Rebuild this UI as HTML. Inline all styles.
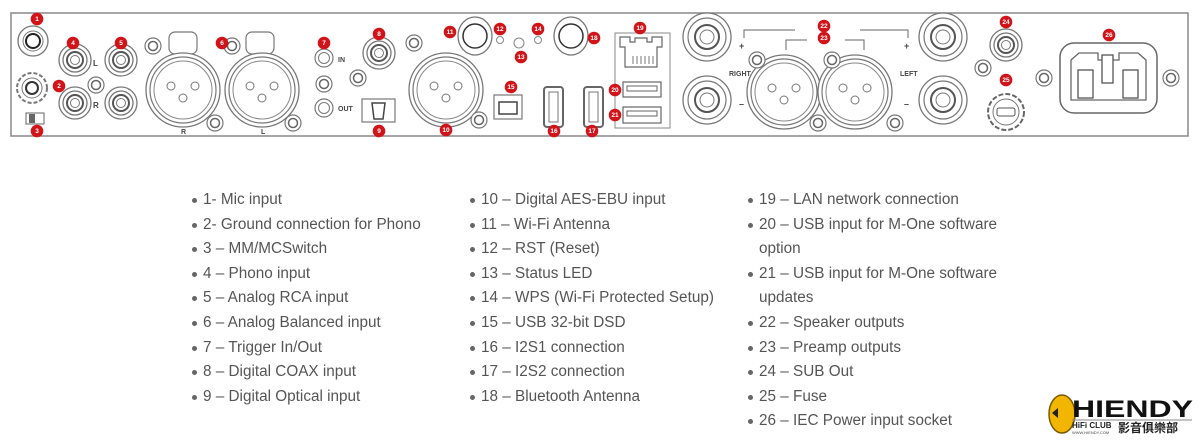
<!DOCTYPE html>
<html><head><meta charset="utf-8"><style>
body{margin:0;width:1199px;height:440px;background:#fff;overflow:hidden;position:relative;font-family:"Liberation Sans",sans-serif}
svg{position:absolute;left:0;top:0}
ul{position:absolute;top:188px;margin:0;padding:0;list-style:none;font-size:15.3px;color:#555;line-height:24.6px}
li{position:relative;padding-left:11px}
li:before{content:"";position:absolute;left:0;top:10px;width:5px;height:5px;border-radius:50%;background:#666}
</style></head><body>
<svg width="1199" height="440" font-family="Liberation Sans,sans-serif">
<defs>
<g id="rca"><circle r="16" fill="#fff" stroke="#777" stroke-width="1.3"/><circle r="12" fill="none" stroke="#777" stroke-width="1.3"/><circle r="8" fill="none" stroke="#555" stroke-width="2"/><circle r="4.5" fill="none" stroke="#777"/></g>
<g id="scr"><circle r="8" fill="#fff" stroke="#777" stroke-width="1.2"/><circle r="4.5" fill="none" stroke="#666" stroke-width="1.5"/></g>
<g id="jk"><circle r="9" fill="#fff" stroke="#777" stroke-width="1.2"/><circle r="5.5" fill="none" stroke="#777"/></g>
<g id="xlr"><circle r="37" fill="#fff" stroke="#777" stroke-width="1.3"/><circle r="33" fill="none" stroke="#777" stroke-width="1.2"/><circle r="29" fill="none" stroke="#888"/><circle cx="-12" cy="-4" r="4" fill="none" stroke="#777"/><circle cx="12" cy="-4" r="4" fill="none" stroke="#777"/><circle cx="0" cy="8" r="4" fill="none" stroke="#777"/></g>
<g id="post"><circle r="24" fill="#fff" stroke="#777" stroke-width="1.3"/><circle r="19" fill="none" stroke="#777" stroke-width="1.2"/><circle r="12" fill="none" stroke="#555" stroke-width="2"/><circle r="7" fill="none" stroke="#777"/></g>
</defs>
<rect x="11" y="13" width="1177" height="123" fill="#fff" stroke="#888" stroke-width="1.5"/>
<circle cx="33" cy="41" r="15" fill="#fff" stroke="#777" stroke-width="1.3"/><circle cx="33" cy="41" r="10" fill="none" stroke="#777"/><circle cx="33" cy="41" r="7" fill="none" stroke="#222" stroke-width="2"/>
<circle cx="32" cy="88" r="15" fill="#fff" stroke="#777" stroke-width="2" stroke-dasharray="4 2"/><circle cx="32" cy="88" r="10" fill="none" stroke="#777"/><circle cx="32" cy="88" r="6" fill="none" stroke="#333" stroke-width="2"/>
<rect x="26" y="113" width="18" height="11" fill="#fff" stroke="#666"/><rect x="29" y="114" width="6" height="9" fill="#666"/>
<use href="#rca" x="75" y="60"/><use href="#rca" x="75" y="103"/><use href="#rca" x="121" y="60"/><use href="#rca" x="121" y="103"/>
<use href="#scr" x="96" y="85"/>
<g font-size="8" font-weight="bold" fill="#444"><text x="93" y="66">L</text><text x="93" y="108">R</text></g>
<rect x="169" y="32" width="28" height="22" rx="6" fill="#fff" stroke="#777" stroke-width="1.2"/>
<rect x="246" y="32" width="28" height="22" rx="6" fill="#fff" stroke="#777" stroke-width="1.2"/>
<use href="#xlr" x="183" y="90"/><use href="#xlr" x="262" y="90"/>
<use href="#scr" x="153" y="46"/><use href="#scr" x="215" y="123"/><use href="#scr" x="232" y="46"/><use href="#scr" x="293" y="123"/>
<g font-size="7" font-weight="bold" fill="#444"><text x="181" y="134">R</text><text x="261" y="134">L</text></g>
<use href="#jk" x="324" y="58"/><use href="#scr" x="324" y="84"/><use href="#jk" x="324" y="108"/>
<g font-size="7" font-weight="bold" fill="#444"><text x="338" y="62">IN</text><text x="338" y="111">OUT</text></g>
<use href="#rca" x="379" y="53"/><use href="#scr" x="358" y="78"/>
<rect x="362" y="99" width="33" height="23" fill="#fff" stroke="#777" stroke-width="1.2"/><path d="M372 103h13l-2 16h-9z" fill="#fff" stroke="#444" stroke-width="1.5"/>
<use href="#xlr" x="446" y="90"/><use href="#scr" x="414" y="43"/><use href="#scr" x="479" y="120"/>
<ellipse cx="475" cy="36" rx="17" ry="19" fill="#fff" stroke="#777" stroke-width="1.3"/><circle cx="475" cy="36" r="12" fill="none" stroke="#333" stroke-width="1.5"/>
<ellipse cx="571" cy="36" rx="17" ry="19" fill="#fff" stroke="#777" stroke-width="1.3"/><circle cx="571" cy="36" r="12" fill="none" stroke="#333" stroke-width="1.5"/>
<circle cx="500" cy="40" r="3.5" fill="none" stroke="#888"/><circle cx="519" cy="43" r="5" fill="none" stroke="#888"/><circle cx="538" cy="40" r="3.5" fill="none" stroke="#888"/>
<rect x="494" y="95" width="28" height="24" fill="#fff" stroke="#777" stroke-width="1.2"/><path d="M499 102h18v12h-18z" fill="none" stroke="#444" stroke-width="1.5"/>
<rect x="544" y="87" width="19" height="40" rx="3" fill="#fff" stroke="#666" stroke-width="2"/><rect x="549" y="92" width="9" height="30" fill="none" stroke="#777"/>
<rect x="584" y="87" width="19" height="40" rx="3" fill="#fff" stroke="#666" stroke-width="2"/><rect x="589" y="92" width="9" height="30" fill="none" stroke="#777"/>
<rect x="615" y="33" width="55" height="95" fill="#fff" stroke="#888"/>
<path d="M620 37h10v5h5v-4h12v4h5v-5h10v10h-5v20h-32v-20h-5z" fill="#fff" stroke="#666" stroke-width="1.2"/>
<g stroke="#777"><line x1="633" y1="56" x2="633" y2="64"/><line x1="637" y1="56" x2="637" y2="64"/><line x1="641" y1="56" x2="641" y2="64"/><line x1="645" y1="56" x2="645" y2="64"/><line x1="649" y1="56" x2="649" y2="64"/><line x1="653" y1="56" x2="653" y2="64"/></g>
<rect x="623" y="82" width="38" height="15" fill="#fff" stroke="#666" stroke-width="1.2"/><rect x="627" y="86" width="30" height="5" fill="none" stroke="#666"/>
<rect x="623" y="107" width="38" height="16" fill="#fff" stroke="#666" stroke-width="1.2"/><rect x="627" y="111" width="30" height="5" fill="none" stroke="#666"/>
<use href="#post" x="707" y="37"/><use href="#post" x="707" y="100"/><use href="#post" x="943" y="37"/><use href="#post" x="943" y="100"/>
<use href="#xlr" x="784" y="92"/><use href="#xlr" x="855" y="92"/>
<use href="#scr" x="757" y="60"/><use href="#scr" x="818" y="123"/><use href="#scr" x="832" y="60"/><use href="#scr" x="895" y="123"/>
<g stroke="#666" fill="none" stroke-width="1"><path d="M744 38v-8h51"/><path d="M860 30h48v8"/><path d="M786 50v-10h21"/><path d="M845 40h19v10"/></g>
<g font-size="9" fill="#444" font-weight="bold"><text x="739" y="49">+</text><text x="739" y="107">–</text><text x="904" y="49">+</text><text x="904" y="107">–</text></g>
<g font-size="7" font-weight="bold" fill="#444"><text x="729" y="76">RIGHT</text><text x="900" y="76">LEFT</text></g>
<use href="#rca" x="1006" y="45"/><use href="#scr" x="983" y="68"/>
<circle cx="1006" cy="112" r="18" fill="#fff" stroke="#666" stroke-width="2" stroke-dasharray="5 2"/><circle cx="1006" cy="112" r="13" fill="none" stroke="#777"/><rect x="997" y="108" width="18" height="8" rx="2" fill="none" stroke="#555"/>
<use href="#scr" x="1044" y="78"/><use href="#scr" x="1171" y="78"/>
<rect x="1060" y="43" width="97" height="70" rx="14" fill="#fff" stroke="#666" stroke-width="1.5"/>
<path d="M1071 60l8-7h19v7h21v-7h19l8 7v40h-75z" fill="#fff" stroke="#666" stroke-width="1.3"/>
<g fill="#fff" stroke="#555" stroke-width="1.3"><rect x="1078" y="70" width="15" height="28"/><rect x="1102" y="55" width="11" height="28"/><rect x="1123" y="70" width="15" height="28"/></g>
<g fill="#d1141a">
<circle cx="37" cy="19" r="6.3"/><circle cx="59" cy="86" r="6.3"/><circle cx="37" cy="131" r="6.3"/><circle cx="73" cy="43" r="6.3"/><circle cx="121" cy="43" r="6.3"/><circle cx="222" cy="43" r="6.3"/><circle cx="324" cy="43" r="6.3"/><circle cx="379" cy="34" r="6.3"/><circle cx="379" cy="131" r="6.3"/><circle cx="446" cy="130" r="6.3"/><circle cx="450" cy="32" r="6.3"/><circle cx="500" cy="29" r="6.3"/><circle cx="521" cy="57" r="6.3"/><circle cx="538" cy="29" r="6.3"/><circle cx="594" cy="38" r="6.3"/><circle cx="511" cy="87" r="6.3"/><circle cx="554" cy="131" r="6.3"/><circle cx="592" cy="131" r="6.3"/><circle cx="640" cy="28" r="6.3"/><circle cx="615" cy="90" r="6.3"/><circle cx="615" cy="115" r="6.3"/><circle cx="824" cy="26" r="6.3"/><circle cx="824" cy="38" r="6.3"/><circle cx="1006" cy="22" r="6.3"/><circle cx="1006" cy="80" r="6.3"/><circle cx="1109" cy="35" r="6.3"/>
</g>
<g fill="#fff" font-size="6.5" font-weight="bold" text-anchor="middle">
<text x="37" y="21">1</text><text x="59" y="88">2</text><text x="37" y="133">3</text><text x="73" y="45">4</text><text x="121" y="45">5</text><text x="222" y="45">6</text><text x="324" y="45">7</text><text x="379" y="36">8</text><text x="379" y="133">9</text><text x="446" y="132">10</text><text x="450" y="34">11</text><text x="500" y="31">12</text><text x="521" y="59">13</text><text x="538" y="31">14</text><text x="594" y="40">18</text><text x="511" y="89">15</text><text x="554" y="133">16</text><text x="592" y="133">17</text><text x="640" y="30">19</text><text x="615" y="92">20</text><text x="615" y="117">21</text><text x="824" y="28">22</text><text x="824" y="40">23</text><text x="1006" y="24">24</text><text x="1006" y="82">25</text><text x="1109" y="37">26</text>
</g>
<ellipse cx="1062" cy="414" rx="13" ry="19" fill="#f2b500" stroke="#7a5a00" stroke-width="1.5"/>
<path d="M1052 413l6-5v10z" fill="#222"/>
<text x="1072" y="417" font-size="24" font-weight="bold" fill="#111" textLength="121" lengthAdjust="spacingAndGlyphs">HIENDY</text>
<line x1="1072" y1="420" x2="1192" y2="420" stroke="#888"/>
<text x="1072" y="428" font-size="8" font-weight="bold" fill="#222">HiFi CLUB</text>
<text x="1072" y="434" font-size="4" fill="#444">WWW.HIENDY.COM</text>
<text x="1118" y="432" font-size="12" font-weight="bold" fill="#222" font-family="Noto Sans CJK TC,sans-serif">影音俱樂部</text>
</svg>
<ul style="left:192px"><li>1- Mic input</li><li>2- Ground connection for Phono</li><li>3 – MM/MCSwitch</li><li>4 – Phono input</li><li>5 – Analog RCA input</li><li>6 – Analog Balanced input</li><li>7 – Trigger In/Out</li><li>8 – Digital COAX input</li><li>9 – Digital Optical input</li></ul>
<ul style="left:470px"><li>10 – Digital AES-EBU input</li><li>11 – Wi-Fi Antenna</li><li>12 – RST (Reset)</li><li>13 – Status LED</li><li>14 – WPS (Wi-Fi Protected Setup)</li><li>15 – USB 32-bit DSD</li><li>16 – I2S1 connection</li><li>17 – I2S2 connection</li><li>18 – Bluetooth Antenna</li></ul>
<ul style="left:748px;width:260px"><li>19 – LAN network connection</li><li>20 – USB input for M-One software option</li><li>21 – USB input for M-One software updates</li><li>22 – Speaker outputs</li><li>23 – Preamp outputs</li><li>24 – SUB Out</li><li>25 – Fuse</li><li>26 – IEC Power input socket</li></ul>
</body></html>
